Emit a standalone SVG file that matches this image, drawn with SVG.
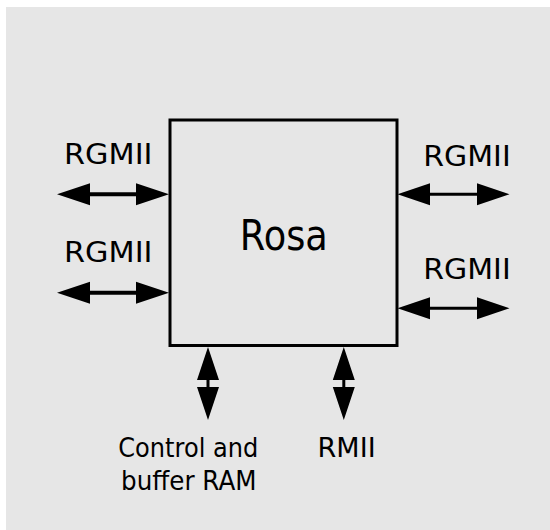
<svg xmlns="http://www.w3.org/2000/svg" width="550" height="530" viewBox="0 0 550 530">
<style>
.lbl{font-family:"DejaVu Sans","Verdana",sans-serif;fill:#000;text-anchor:middle}
.big{font-size:29px}
.sm{font-size:27px}
.head{fill:#000}
.shaft{stroke:#000;fill:none}
</style>
<rect x="0" y="0" width="550" height="530" fill="#ffffff"/>
<rect x="6" y="7" width="544" height="523" fill="#e6e6e6"/>
<g id="rosa">
<rect x="170" y="120" width="227" height="225.5" fill="none" stroke="#000" stroke-width="3"/>
<text class="lbl" x="283.8" y="250" font-size="42" textLength="88" lengthAdjust="spacingAndGlyphs">Rosa</text>
</g>
<g id="label-left-1"><text class="lbl big" x="108.3" y="164.3" textLength="88.5" lengthAdjust="spacingAndGlyphs">RGMII</text></g>
<g id="label-left-2"><text class="lbl big" x="108.3" y="262" textLength="88.5" lengthAdjust="spacingAndGlyphs">RGMII</text></g>
<g id="label-right-1"><text class="lbl big" x="467" y="165.7" textLength="87.5" lengthAdjust="spacingAndGlyphs">RGMII</text></g>
<g id="label-right-2"><text class="lbl big" x="467" y="279.3" textLength="87.5" lengthAdjust="spacingAndGlyphs">RGMII</text></g>
<g id="label-ram">
<text class="lbl sm" x="188.3" y="456.5" textLength="140" lengthAdjust="spacingAndGlyphs">Control and</text>
<text class="lbl sm" x="188.8" y="490.2" textLength="135.5" lengthAdjust="spacingAndGlyphs">buffer RAM</text>
</g>
<g id="label-rmii"><text class="lbl sm" x="346.6" y="456.6" textLength="58" lengthAdjust="spacingAndGlyphs">RMII</text></g>
<g id="connectors">
<line class="shaft" x1="89" y1="194.3" x2="137" y2="194.3" stroke-width="4"/>
<polygon class="head" points="57,194.3 90,183.3 90,205.3"/>
<polygon class="head" points="169,194.3 136,183.3 136,205.3"/>
<line class="shaft" x1="89" y1="292.7" x2="137" y2="292.7" stroke-width="4"/>
<polygon class="head" points="57,292.7 90,281.7 90,303.7"/>
<polygon class="head" points="169,292.7 136,281.7 136,303.7"/>
<line class="shaft" x1="429" y1="194.3" x2="478" y2="194.3" stroke-width="3"/>
<polygon class="head" points="397.5,194.3 430,183.3 430,205.3"/>
<polygon class="head" points="509.5,194.3 477,183.3 477,205.3"/>
<line class="shaft" x1="429" y1="308.3" x2="478" y2="308.3" stroke-width="3"/>
<polygon class="head" points="397.5,308.3 430,297.3 430,319.3"/>
<polygon class="head" points="509.5,308.3 477,297.3 477,319.3"/>
<line class="shaft" x1="208" y1="379" x2="208" y2="388" stroke-width="3"/>
<polygon class="head" points="208,347 197,380 219,380"/>
<polygon class="head" points="208,420 197,387 219,387"/>
<line class="shaft" x1="343.8" y1="379" x2="343.8" y2="388" stroke-width="3"/>
<polygon class="head" points="343.8,347 332.8,380 354.8,380"/>
<polygon class="head" points="343.8,420 332.8,387 354.8,387"/>
</g>
</svg>
